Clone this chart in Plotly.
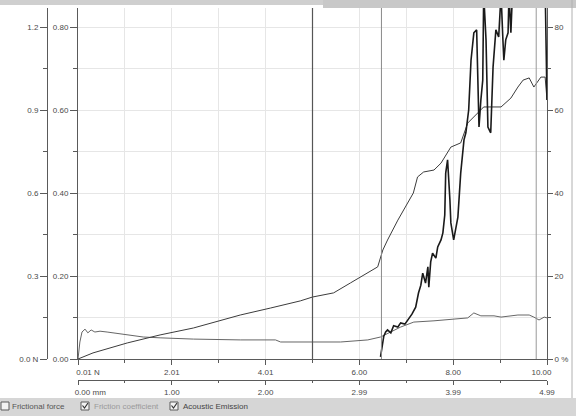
import plotly.graph_objects as go

# ---------------- data ----------------
load_force = [0, 0.32, 1.05, 1.75, 2.46, 3.46, 4.10, 4.74, 5.0, 5.45, 5.81, 6.18, 6.39, 6.50,
              6.60, 6.82, 7.03, 7.15, 7.24, 7.37, 7.59, 7.74, 7.95, 8.16, 8.31, 8.44, 8.65,
              9.02, 9.23, 9.38, 9.49, 9.62, 9.72, 9.87, 9.96, 10.0]
force_N = [0, 0.022, 0.058, 0.087, 0.112, 0.159, 0.184, 0.210, 0.224, 0.239, 0.275, 0.311, 0.333,
           0.394, 0.430, 0.502, 0.564, 0.600, 0.658, 0.676, 0.683, 0.708, 0.766, 0.781, 0.853,
           0.875, 0.911, 0.911, 0.943, 0.983, 1.008, 1.016, 0.983, 1.019, 1.019, 0.936]

load_coef = [0, 0.04, 0.085, 0.15, 0.21, 0.28, 0.36, 0.47, 0.62, 1.05, 1.39, 1.75, 2.46, 3.46,
             4.21, 4.32, 5.60, 6.18, 6.45, 6.88, 7.16, 7.59, 7.95, 8.31, 8.44, 8.59, 8.87,
             9.02, 9.38, 9.62, 9.72, 9.83, 9.94, 10.0]
coef = [0, 0.041, 0.065, 0.072, 0.063, 0.070, 0.065, 0.067, 0.065, 0.058, 0.053, 0.051, 0.048,
        0.046, 0.046, 0.041, 0.041, 0.046, 0.053, 0.077, 0.089, 0.092, 0.096, 0.099, 0.111,
        0.104, 0.104, 0.101, 0.106, 0.106, 0.101, 0.094, 0.101, 0.099]

load_ae = [6.45, 6.50, 6.52, 6.56, 6.60, 6.67, 6.73, 6.82, 6.88, 6.97, 7.03, 7.12, 7.20, 7.26,
           7.31, 7.35, 7.41, 7.46, 7.48, 7.52, 7.56, 7.63, 7.67, 7.74, 7.78, 7.82, 7.84, 7.88,
           7.93, 7.95, 8.01, 8.06, 8.10, 8.16, 8.23, 8.27, 8.33, 8.38, 8.44, 8.50, 8.55, 8.59,
           8.63, 8.65, 8.70, 8.74, 8.80, 8.85, 8.91, 8.97, 9.02, 9.06, 9.08, 9.12, 9.17, 9.19,
           9.23, 9.27, 9.96, 10.0]
ae_pct = [0.5, 3.9, 5.5, 6.5, 7.0, 6.3, 8.0, 7.7, 8.7, 8.4, 9.4, 10.8, 12.5, 15.9,
          17.8, 20.7, 18.3, 22.2, 17.3, 23.4, 25.5, 24.3, 27.0, 28.7, 30.4, 34.7, 44.8, 48.0,
          38.3, 32.8, 28.7, 32.3, 34.2, 44.8, 52.8, 54.5, 60.0, 72.0, 78.6, 79.3, 55.9, 62.4,
          67.2, 88.0, 76.9, 55.9, 54.5, 70.4, 79.3, 77.6, 88.0, 76.9, 72.0, 76.9, 78.6, 88.0,
          78.6, 90.0, 90.0, 62.4]

force_ticks = [0, 0.3, 0.6, 0.9, 1.2]
force_labels = ["0.0 N", "0.3", "0.6", "0.9", "1.2"]
coef_ticks = [0, 0.2, 0.4, 0.6, 0.8]
coef_labels = ["0.00", "0.20", "0.40", "0.60", "0.80"]
ae_ticks = [0, 20, 40, 60, 80]
ae_labels = ["0 %", "20", "40", "60", "80"]
load_ticks = [0, 2, 4, 6, 8, 10]
load_labels = ["0.01 N", "2.01", "4.01", "6.00", "8.00", "10.00"]
dist_labels = ["0.00 mm", "1.00", "2.00", "2.99", "3.99", "4.99"]
cursor_loads = [5.0, 6.47, 9.77]
legend_names = ["Frictional force", "Friction coefficient", "Acoustic Emission"]

# ---------------- layout helpers ----------------
W, H = 576, 416
def px(x):
    return x / W
def py(y):
    return 1 - y / H

PL, PR, PT, PB = 78, 547, 8, 359
span = PB - PT
FONT = dict(family="Liberation Sans, Arial, sans-serif", size=8, color="#4a4a4a")
AX = "#5a5a5a"
GRID = "#e6e6e6"

fig = go.Figure()
fig.add_trace(go.Scatter(x=load_coef, y=coef, mode="lines", xaxis="x", yaxis="y",
                         line=dict(color="#666666", width=1), showlegend=False, hoverinfo="skip"))
fig.add_trace(go.Scatter(x=load_force, y=force_N, mode="lines", xaxis="x", yaxis="y2",
                         line=dict(color="#3c3c3c", width=1), showlegend=False, hoverinfo="skip"))
fig.add_trace(go.Scatter(x=load_ae, y=ae_pct, mode="lines", xaxis="x", yaxis="y3",
                         line=dict(color="#1a1a1a", width=1.6), showlegend=False, hoverinfo="skip"))
fig.add_trace(go.Scatter(x=[None], y=[None], xaxis="x2", yaxis="y", showlegend=False,
                         hoverinfo="skip"))

ydom = [py(PB), py(PT)]
common = dict(showline=True, linecolor=AX, linewidth=1, ticks="outside", tickcolor=AX,
              tickfont=FONT, zeroline=False, fixedrange=True, automargin=False)

fig.update_layout(
    width=W, height=H, autosize=False,
    margin=dict(l=0, r=0, t=0, b=0, pad=0),
    paper_bgcolor="white", plot_bgcolor="white",
    xaxis=dict(domain=[px(PL), px(PR)], range=[0, 10], tickmode="array",
               tickvals=load_ticks,
               ticktext=["\u00a0" * 9 + load_labels[0]] + load_labels[1:-1]
                        + [load_labels[-1] + "\u00a0" * 5],
               ticklen=5, showgrid=True, gridcolor=GRID,
               minor=dict(dtick=1, tick0=0, ticks="outside", ticklen=3, tickcolor=AX,
                          showgrid=True, gridcolor=GRID),
               anchor="y", **common),
    xaxis2=dict(domain=[px(PL), px(PR)], range=[0, 10], overlaying="x", anchor="free",
                position=py(380), side="bottom", tickmode="array", tickvals=load_ticks,
                ticktext=["\u00a0" * 11 + dist_labels[0]] + dist_labels[1:],
                ticklen=4, showgrid=False,
                minor=dict(dtick=1, tick0=0, ticks="outside", ticklen=2, tickcolor=AX),
                **common),
    yaxis=dict(domain=ydom, range=[0, 0.8 * span / 332], tickmode="array",
               tickvals=coef_ticks, ticktext=coef_labels, ticklen=7,
               showgrid=True, gridcolor=GRID,
               minor=dict(dtick=0.1, tick0=0, ticks="outside", ticklen=4, tickcolor=AX,
                          showgrid=True, gridcolor=GRID),
               anchor="x", **common),
    yaxis2=dict(domain=ydom, range=[0, 1.2 * span / 332], overlaying="y", anchor="free",
                position=px(47), side="left", tickmode="array", tickvals=force_ticks,
                ticktext=force_labels, ticklen=7, showgrid=False,
                minor=dict(dtick=0.15, tick0=0, ticks="outside", ticklen=4, tickcolor=AX),
                **common),
    yaxis3=dict(domain=ydom, range=[0, 80 * span / 332], overlaying="y", anchor="x",
                side="right", tickmode="array", tickvals=ae_ticks, ticktext=ae_labels,
                ticklen=5, showgrid=False,
                minor=dict(dtick=10, tick0=0, ticks="outside", ticklen=3, tickcolor=AX),
                **common),
)

# cursor lines
for xv, col, wd in zip(cursor_loads, ["#555555", "#8a8a8a", "#9a9a9a"], [1.2, 1, 1]):
    fig.add_shape(type="line", xref="x", yref="paper", x0=xv, x1=xv, y0=ydom[0], y1=ydom[1],
                  line=dict(color=col, width=wd), layer="above")

# top strip (cut-off toolbar) and right border
fig.add_shape(type="rect", xref="paper", yref="paper", x0=0, x1=px(323), y0=py(5), y1=1,
              line_width=0, fillcolor="#cfcfcf", layer="above")
fig.add_shape(type="rect", xref="paper", yref="paper", x0=px(323), x1=1, y0=py(8), y1=1,
              line_width=0, fillcolor="#c8c8c8", layer="above")
fig.add_shape(type="line", xref="paper", yref="paper", x0=px(572), x1=px(572), y0=py(398), y1=1,
              line=dict(color="#b0b0b0", width=1))

# legend bar at the bottom
fig.add_shape(type="rect", xref="paper", yref="paper", x0=0, x1=1, y0=0, y1=py(398),
              line_width=0, fillcolor="#d6d6d6", layer="above")
box_x = [1, 81, 170]
text_x = [10, 92, 181]
text_col = ["#555555", "#9a9a9a", "#444444"]
checked = [False, True, True]
for bx, tx, tc, ck, name in zip(box_x, text_x, text_col, checked, legend_names):
    fig.add_shape(type="rect", xref="paper", yref="paper", x0=px(bx), x1=px(bx + 8),
                  y0=py(410), y1=py(402), line=dict(color="#5a5a5a", width=1),
                  fillcolor="#f2f2f2", layer="above")
    if ck:
        fig.add_shape(type="path", xref="paper", yref="paper",
                      path=f"M {px(bx+1.5)} {py(405.5)} L {px(bx+3.5)} {py(408)} L {px(bx+7)} {py(403)}",
                      line=dict(color="#333333", width=1.2), layer="above")
    fig.add_annotation(x=px(tx), y=py(406), xref="paper", yref="paper", text=name,
                       showarrow=False, xanchor="left", yanchor="middle",
                       font=dict(family="Liberation Sans, Arial, sans-serif", size=8, color=tc))

fig.write_html("out.html", config={"displayModeBar": False, "staticPlot": True},
               post_script="document.body.style.margin='0';document.body.style.overflow='hidden';")
